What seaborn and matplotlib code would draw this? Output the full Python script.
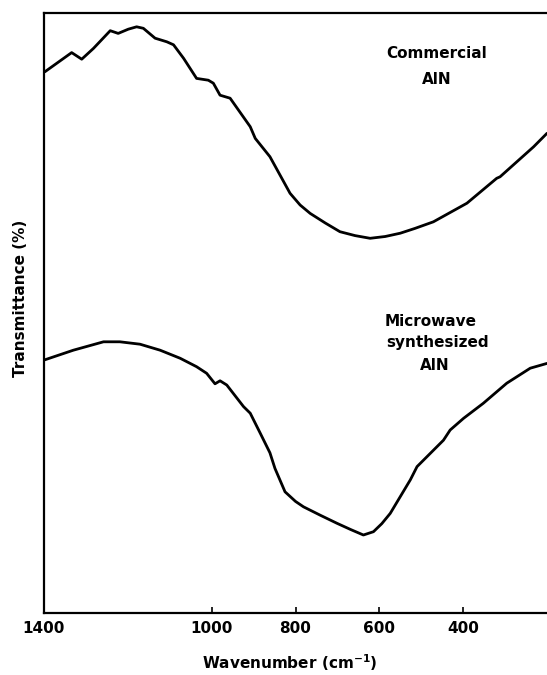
import matplotlib
matplotlib.use("Agg")
import matplotlib.pyplot as plt
import seaborn as sns
import pandas as pd

# Commercial AlN spectrum (wavenumber cm^-1, transmittance arb. %)
comm_wn = [1398, 1334, 1310, 1282, 1242, 1223, 1199, 1179, 1163, 1135, 1107, 1091,
           1067, 1036, 1008, 996, 980, 956, 908, 896, 861, 813, 789, 765, 729, 694,
           658, 622, 586, 550, 515, 471, 431, 391, 320, 312, 232, 200]
comm_t = [90.2, 93.4, 92.3, 94.1, 97.05, 96.6, 97.3, 97.7, 97.45, 95.8, 95.2, 94.7,
          92.45, 89.1, 88.8, 88.3, 86.3, 85.8, 81.05, 79.1, 76.05, 69.95, 68.0, 66.6, 65.0, 63.55,
          62.9, 62.45, 62.75, 63.3, 64.1, 65.2, 66.75, 68.3, 72.45, 72.7, 77.7, 79.95]

# Microwave synthesized AlN spectrum
micro_wn = [1398, 1330, 1258, 1219, 1171, 1123, 1075, 1036, 1012, 992, 980, 964,
            924, 908, 884, 861, 849, 825, 800, 781, 741, 701, 668, 638, 614, 594, 574, 526, 510,
            447, 431, 399, 352, 296, 240, 200]
micro_t = [42.2, 43.8, 45.2, 45.2, 44.8, 43.8, 42.45, 41.05, 39.95, 38.2, 38.7, 38.0,
           34.4, 33.3, 29.95, 26.7, 24.1, 20.2, 18.6, 17.7, 16.3, 14.95, 13.9, 13.0, 13.55, 14.9, 16.6, 22.2, 24.4,
           28.8, 30.5, 32.45, 34.95, 38.3, 40.8, 41.6]

tick_vals = [1400, 1000, 800, 600, 400]
tick_labels = ["1400", "1000", "800", "600", "400"]

sns.set_style("ticks")
plt.rcParams["font.family"] = ["DejaVu Sans"]
plt.rcParams["text.color"] = "black"
plt.rcParams["xtick.color"] = "black"

fig = plt.figure(figsize=(5.47, 6.75), dpi=100)
ax = fig.add_axes([44/547, 1 - 613/675, 1 - 44/547, (613 - 13)/675])

df_c = pd.DataFrame({"wn": comm_wn, "t": comm_t})
df_m = pd.DataFrame({"wn": micro_wn, "t": micro_t})
sns.lineplot(data=df_c, x="wn", y="t", ax=ax, color="black", lw=2.0, sort=False)
sns.lineplot(data=df_m, x="wn", y="t", ax=ax, color="black", lw=2.0, sort=False)

ax.set_xlim(1400, 200)
ax.set_ylim(0, 100)
ax.set_xticks(tick_vals)
ax.set_xticklabels(tick_labels, fontsize=11, fontweight="bold", color="black")
ax.set_yticks([])
ax.tick_params(axis="x", direction="in", length=4, width=1.2, pad=6, colors="black")
for s in ["left", "bottom", "top"]:
    ax.spines[s].set_linewidth(1.6)
    ax.spines[s].set_color("black")
ax.spines["right"].set_visible(False)
ax.set_xlabel("")
ax.set_ylabel("")

fig.text(290/547, 1 - 663/675, "Wavenumber (cm$^{\\mathbf{-1}}$)", ha="center", va="center",
         fontsize=11, fontweight="bold", color="black")
fig.text(21/547, 1 - 298/675, "Transmittance (%)", ha="center", va="center",
         rotation=90, fontsize=11, fontweight="bold", color="black")

def lab(x, y, s, ha="center"):
    fig.text(x/547, 1 - y/675, s, ha=ha, va="center", fontsize=11, fontweight="bold",
             color="black")

lab(437, 53, "Commercial")
lab(437, 80, "AlN")
lab(385, 322, "Microwave", ha="left")
lab(386, 342, "synthesized", ha="left")
lab(420, 365, "AlN", ha="left")

fig.savefig("out.png", dpi=100)
